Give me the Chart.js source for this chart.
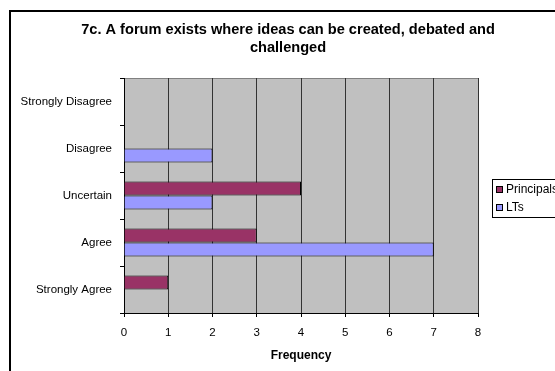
<!DOCTYPE html>
<html>
<head>
<meta charset="utf-8">
<script src="https://cdn.jsdelivr.net/npm/chart.js@4/dist/chart.umd.min.js"></script>
<style>
  html, body { margin: 0; padding: 0; background: #ffffff; }
  #wrap { position: relative; width: 555px; height: 371px; }
</style>
</head>
<body>
<div id="wrap"><canvas id="forumChart"></canvas></div>
<script>
// 7c survey answers, counted per group
var categories = ['Strongly Disagree', 'Disagree', 'Uncertain', 'Agree', 'Strongly Agree'];
var principals = [0, 0, 4, 3, 1];
var lts = [0, 2, 2, 7, 0];
var xTicks = [0, 1, 2, 3, 4, 5, 6, 7, 8];
var titleLines = ['7c. A forum exists where ideas can be created, debated and', 'challenged'];

var FONT = 'Arial, "Liberation Sans", sans-serif';

// outer chart frame, title, grey plot background and the boxed legend (Excel look)
var excelFrame = {
    id: 'excelFrame',
    beforeDraw: function(chart) {
        var c = chart.ctx, a = chart.chartArea;
        c.save();
        c.fillStyle = '#ffffff';
        c.fillRect(0, 0, chart.width, chart.height);
        c.strokeStyle = '#000000';
        c.lineWidth = 2;
        c.strokeRect(10, 11, chart.width + 20, chart.height + 20);
        c.fillStyle = '#c0c0c0';
        c.fillRect(a.left, a.top, a.right - a.left, a.bottom - a.top);
        c.strokeStyle = '#808080';
        c.lineWidth = 1;
        c.beginPath();
        c.moveTo(a.left, a.top + 0.5);
        c.lineTo(a.right, a.top + 0.5);
        c.stroke();

        // title, centred on the full chart frame
        c.fillStyle = '#000000';
        c.font = 'bold 14.6px ' + FONT;
        c.textAlign = 'center';
        c.textBaseline = 'middle';
        titleLines.forEach(function(line, i) {
            c.fillText(line, 288, 30 + i * 18);
        });
        c.restore();
    },
    afterDraw: function(chart) {
        var c = chart.ctx;
        var sets = chart.data.datasets;
        c.save();
        c.fillStyle = '#ffffff';
        c.fillRect(492, 180, 80, 38);
        c.strokeStyle = '#000000';
        c.lineWidth = 1;
        c.strokeRect(492.5, 179.5, 80, 38);
        c.font = '12px ' + FONT;
        c.textBaseline = 'middle';
        sets.forEach(function(ds, i) {
            var y = 190 + i * 18;
            c.fillStyle = ds.backgroundColor;
            c.fillRect(496.5, y - 3.5, 6, 6);
            c.strokeRect(496.5, y - 3.5, 6, 6);
            c.fillStyle = '#000000';
            c.fillText(ds.label, 506, y);
        });
        c.restore();
    }
};

new Chart(document.getElementById('forumChart'), {
    type: 'bar',
    data: {
        labels: categories,
        datasets: [{
            label: 'Principals',
            data: principals,
            backgroundColor: '#993366',
            borderColor: '#000000',
            borderWidth: 1,
            barPercentage: 1,
            categoryPercentage: 0.6
        }, {
            label: 'LTs',
            data: lts,
            backgroundColor: '#9999ff',
            borderColor: '#000000',
            borderWidth: 1,
            barPercentage: 1,
            categoryPercentage: 0.6
        }]
    },
    options: {
        indexAxis: 'y',
        responsive: true,
        maintainAspectRatio: false,
        animation: false,
        layout: { padding: { left: 10, right: 77, top: 78, bottom: 8 } },
        scales: {
            x: {
                min: 0,
                max: 8,
                afterBuildTicks: function(scale) {
                    scale.ticks = xTicks.map(function(v) { return { value: v }; });
                },
                grid: {
                    color: '#333333',
                    lineWidth: 1,
                    drawTicks: true,
                    tickLength: 4,
                    tickColor: '#000000'
                },
                border: { display: true, color: '#000000', width: 1 },
                ticks: {
                    color: '#000000',
                    padding: 9,
                    maxRotation: 0,
                    font: { family: FONT, size: 11.5 }
                },
                title: {
                    display: true,
                    text: 'Frequency',
                    color: '#000000',
                    padding: { top: 3, bottom: 0 },
                    font: { family: FONT, size: 12, weight: 'bold' }
                },
                afterFit: function(scale) { scale.height = 50; }
            },
            y: {
                grid: {
                    display: true,
                    drawOnChartArea: false,
                    offset: true,
                    tickLength: 4,
                    tickColor: '#000000'
                },
                border: { display: true, color: '#000000', width: 1 },
                ticks: {
                    color: '#000000',
                    padding: 8,
                    font: { family: FONT, size: 11.5 }
                },
                afterFit: function(scale) { scale.width = 114; }
            }
        },
        plugins: {
            legend: { display: false },
            tooltip: { enabled: false },
            title: { display: false }
        }
    },
    plugins: [excelFrame]
});
</script>
</body>
</html>
